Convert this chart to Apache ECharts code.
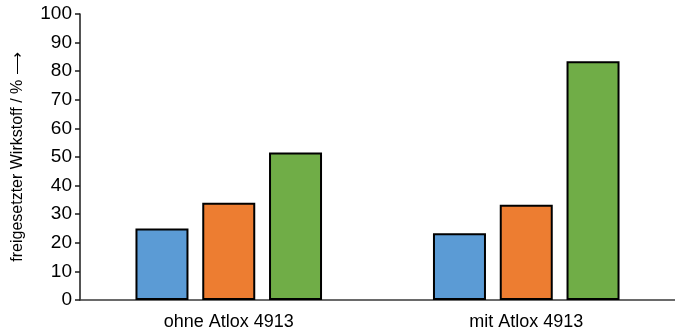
<!DOCTYPE html>
<html>
<head>
<meta charset="utf-8">
<script src="https://cdn.jsdelivr.net/npm/echarts@6/dist/echarts.min.js"></script>
<style>
  html, body { margin: 0; padding: 0; background: #fff; }
  #chart { width: 675px; height: 335px; }
</style>
</head>
<body>
<div id="chart"></div>
<script>
// Released active ingredient, with and without Atlox 4913
const categories = ['ohne Atlox 4913', 'mit Atlox 4913'];
const seriesBlue = [25.0, 23.3];
const seriesOrange = [34.0, 33.3];
const seriesGreen = [51.6, 83.5];
const yTicks = [0, 10, 20, 30, 40, 50, 60, 70, 80, 90, 100];

const colors = ['#5B9BD5', '#ED7D31', '#70AD47'];
const fontFamily = 'Liberation Sans, Arial, sans-serif';

function barSeries(data, color, name) {
  return {
    name: name,
    type: 'bar',
    data: data,
    barWidth: 53,
    barGap: '26%',
    itemStyle: { color: color, borderColor: '#000', borderWidth: 2 },
    emphasis: { disabled: true },
    animation: false
  };
}

const chart = echarts.init(document.getElementById('chart'), null, { renderer: 'canvas' });
chart.setOption({
  animation: false,
  grid: { left: 80, top: 14, width: 602, bottom: 35, containLabel: false },
  xAxis: {
    type: 'category',
    data: categories,
    axisLine: { lineStyle: { color: '#3a3a3a', width: 1.5 } },
    axisTick: { show: false },
    axisLabel: { color: '#000', fontSize: 18, fontFamily: fontFamily, margin: 13 }
  },
  yAxis: {
    type: 'value',
    min: yTicks[0],
    max: yTicks[yTicks.length - 1],
    interval: 10,
    name: 'freigesetzter Wirkstoff / % \u27F6',
    nameLocation: 'middle',
    nameRotate: 90,
    nameGap: 54,
    nameTextStyle: { color: '#000', fontSize: 16, fontFamily: fontFamily },
    splitLine: { show: false },
    axisLine: { show: true, lineStyle: { color: '#1a1a1a', width: 1.5 } },
    axisTick: { show: true, inside: false, length: 5, lineStyle: { color: '#1a1a1a', width: 1.5 } },
    axisLabel: { color: '#000', fontSize: 19, fontFamily: fontFamily, margin: 8 }
  },
  series: [
    barSeries(seriesBlue, colors[0], 'A'),
    barSeries(seriesOrange, colors[1], 'B'),
    barSeries(seriesGreen, colors[2], 'C')
  ]
});
</script>
</body>
</html>
